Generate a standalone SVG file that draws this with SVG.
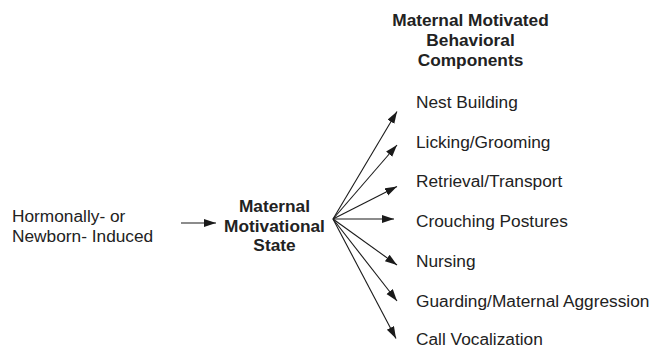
<svg xmlns="http://www.w3.org/2000/svg" width="655" height="348" viewBox="0 0 655 348">
<defs>
<marker id="ah" markerUnits="userSpaceOnUse" markerWidth="14" markerHeight="10" refX="12" refY="4" orient="auto">
<path d="M0,0 L12,4 L0,8 z" fill="#1a1a1a"/>
</marker>
<style>
text{font-family:"Liberation Sans",Arial,sans-serif;font-size:17.3px;fill:#222}
.b{font-weight:bold}
.c{text-anchor:middle}
.e{stroke:#1a1a1a;stroke-width:1.1;fill:none;marker-end:url(#ah)}
</style>
</defs>
<rect width="655" height="348" fill="#fff"/>
<g id="input">
<text x="12" y="222">Hormonally- or</text>
<text x="12" y="242">Newborn- Induced</text>
</g>
<g id="state">
<text class="b c" x="274.5" y="212">Maternal</text>
<text class="b c" x="274.5" y="232">Motivational</text>
<text class="b c" x="274.5" y="251">State</text>
</g>
<g id="header">
<text class="b c" x="470.5" y="26">Maternal Motivated</text>
<text class="b c" x="470.5" y="46">Behavioral</text>
<text class="b c" x="470.5" y="66">Components</text>
</g>
<g id="nest"><text x="416" y="108">Nest Building</text></g>
<g id="licking"><text x="416" y="148">Licking/Grooming</text></g>
<g id="retrieval"><text x="416" y="187">Retrieval/Transport</text></g>
<g id="crouching"><text x="416" y="227">Crouching Postures</text></g>
<g id="nursing"><text x="416" y="267">Nursing</text></g>
<g id="guarding"><text x="416" y="307">Guarding/Maternal Aggression</text></g>
<g id="call"><text x="416" y="345">Call Vocalization</text></g>
<g id="connectors">
<line class="e" x1="181" y1="223" x2="216" y2="223"/>
<line class="e" x1="333" y1="219" x2="397" y2="111.5"/>
<line class="e" x1="333" y1="219" x2="397" y2="145"/>
<line class="e" x1="333" y1="219" x2="397" y2="186.5"/>
<line class="e" x1="333" y1="219" x2="394" y2="219"/>
<line class="e" x1="333" y1="219" x2="397" y2="265"/>
<line class="e" x1="333" y1="219" x2="397" y2="301"/>
<line class="e" x1="333" y1="219" x2="396" y2="338.5"/>
</g>
</svg>
